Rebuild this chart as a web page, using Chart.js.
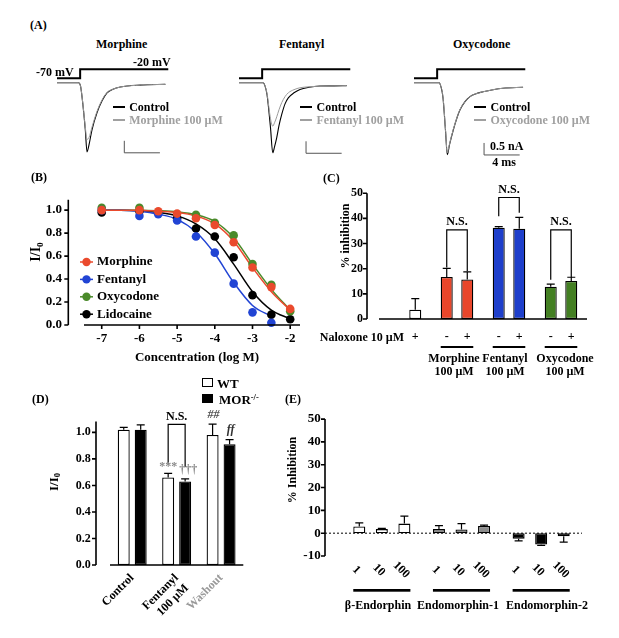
<!DOCTYPE html>
<html>
<head>
<meta charset="utf-8">
<script src="https://cdn.jsdelivr.net/npm/chart.js@4.4.1/dist/chart.umd.min.js"></script>
<style>
  body { margin: 0; background: #fff; }
  #fig { position: relative; width: 619px; height: 638px; overflow: hidden;
         font-family: 'Liberation Serif', 'Times New Roman', serif; font-weight: bold; color: #000; }
  #fig canvas { position: absolute; }
  .t { position: absolute; line-height: 1; white-space: nowrap; }
  .t sub { font-size: 65%; vertical-align: -0.25em; }
  .t sup { font-size: 65%; vertical-align: 0.45em; }
  .key { position: absolute; }
</style>
</head>
<body>
<div id="fig">
  <canvas id="traceMorphine" width="120" height="100" style="left:57px;top:60px"></canvas>
  <canvas id="traceFentanyl" width="120" height="100" style="left:239px;top:60px"></canvas>
  <canvas id="traceOxycodone" width="120" height="100" style="left:414px;top:60px"></canvas>
  <canvas id="chartB" width="310" height="200" style="left:0;top:170px"></canvas>
  <canvas id="chartC" width="309" height="230" style="left:310px;top:170px"></canvas>
  <canvas id="chartD" width="300" height="243" style="left:0;top:395px"></canvas>
  <canvas id="chartE" width="319" height="248" style="left:300px;top:390px"></canvas>
</div>
<script>
/* ===== DATA ===== */
// (A) voltage step and current traces (ms, mV, nA)
const stepTime = [0, 2.6, 2.6, 12.5];
const stepVolt = [-70, -70, -20, -20];

const morphineTime = [0, 2.43, 2.64, 2.81, 3.18, 3.37, 3.60, 3.93, 4.49, 5.06, 5.62, 6.29, 7.11, 9.36, 12.17];
const morphineCtrl = [0, 0, -0.13, -0.58, -1.96, -2.88, -2.58, -1.96, -1.25, -0.75, -0.42, -0.27, -0.18, -0.10, -0.07];
const morphineDrug = [0, 0, -0.13, -0.56, -1.85, -2.36, -2.28, -1.85, -1.20, -0.72, -0.41, -0.27, -0.18, -0.10, -0.07];

const fentanylTime = [0, 2.70, 2.92, 3.15, 3.54, 3.79, 3.99, 4.24, 4.49, 4.80, 5.17, 5.54, 6.18, 6.85, 7.87, 9.10, 10.67, 12.10];
const fentanylCtrl = [0, 0, -0.13, -0.50, -1.88, -2.92, -2.67, -2.29, -1.79, -1.32, -0.88, -0.63, -0.42, -0.28, -0.19, -0.14, -0.13, -0.12];
const fentanylDrug = [0, 0, -0.13, -0.46, -1.50, -1.81, -1.67, -1.42, -1.13, -0.83, -0.58, -0.42, -0.29, -0.21, -0.17, -0.14, -0.13, -0.12];

const oxycodoneTime = [0, 2.81, 3.03, 3.26, 3.54, 3.74, 3.99, 4.42, 4.83, 5.17, 5.73, 6.29, 6.97, 7.75, 8.88, 10.0, 12.25];
const oxycodoneCtrl = [0, 0, -0.17, -0.63, -2.00, -3.00, -2.58, -1.96, -1.46, -1.13, -0.79, -0.58, -0.46, -0.38, -0.29, -0.23, -0.19];
const oxycodoneDrug = [0, 0, -0.17, -0.60, -1.95, -2.92, -2.55, -1.94, -1.45, -1.12, -0.79, -0.58, -0.46, -0.38, -0.29, -0.23, -0.19];

// (B) concentration-response
const bDrugs = ["Morphine", "Fentanyl", "Oxycodone", "Lidocaine"];
const logConc = [-7, -6, -5.5, -5, -4.5, -4, -3.5, -3, -2.5, -2];
const morphineI = [1.00, 1.00, 0.99, 0.97, 0.93, 0.87, 0.72, 0.50, 0.33, 0.14];
const fentanylI = [1.00, 0.95, 0.965, 0.91, 0.77, 0.63, 0.36, 0.11, 0.02, null];
const oxycodoneI = [1.02, 1.02, null, null, 0.96, 0.89, 0.78, 0.53, 0.35, 0.12];
const lidocaineI = [0.98, 0.99, null, 0.93, 0.84, 0.77, 0.59, 0.26, 0.09, 0.05];

const fitLog = [-7, -6.5, -6, -5.5, -5, -4.5, -4, -3.5, -3, -2.5, -2];
const morphineFit = [1.0, 1.0, 1.0, 0.99, 0.98, 0.95, 0.88, 0.73, 0.50, 0.29, 0.13];
const fentanylFit = [1.0, 1.0, 0.99, 0.965, 0.92, 0.81, 0.62, 0.37, 0.17, 0.075, null];
const oxycodoneFit = [1.0, 1.0, 1.0, 0.995, 0.985, 0.96, 0.90, 0.76, 0.53, 0.31, 0.13];
const lidocaineFit = [1.0, 1.0, 0.995, 0.98, 0.95, 0.88, 0.75, 0.53, 0.29, 0.13, 0.055];

// (C) % inhibition, naloxone - / +
const cGroups = ["", ["Morphine", "100 µM"], ["Fentanyl", "100 µM"], ["Oxycodone", "100 µM"]];
const cMinus = [null, 16.7, 36.3, 12.8];
const cMinusErr = [0, 3.4, 0.4, 1.1];
const cPlus = [3.7, 15.7, 35.9, 15.1];
const cPlusErr = [4.4, 3.0, 4.5, 1.5];

// (D) I/I0 in WT and MOR-/-
const dGroups = ["Control", ["Fentanyl", "100 µM"], "Washout"];
const wtMean = [1.02, 0.66, 0.98];
const wtErr = [0.017, 0.031, 0.082];
const morMean = [1.02, 0.63, 0.91];
const morErr = [0.036, 0.019, 0.036];

// (E) endogenous peptides, % inhibition by dose
const eGroups = ["β-Endorphin", "Endomorphin-1", "Endomorphin-2"];
const eDoses = ["1", "10", "100"];
const dose1 = [2.9, 1.8, -2.4];
const dose1Err = [1.6, 1.5, 1.0];
const dose10 = [1.8, 1.6, -5.0];
const dose10Err = [0.3, 2.6, 0.3];
const dose100 = [4.2, 3.2, -1.3];
const dose100Err = [3.3, 0.3, 2.6];

/* ===== STYLE ===== */
const RED = "#e9462b", BLUE = "#1e3fcb", GREEN = "#437f22", GRAY = "#a0a0a0";
const bColors = ["#ea4a2d", "#2144d4", "#4a8a2a", "#000000"];
const cColors = ["#ffffff", RED, BLUE, GREEN];
const eColors = ["#ffffff", "#8c8c8c", "#000000"];
const FONT = "'Liberation Serif', 'Times New Roman', serif";

Chart.defaults.font.family = FONT;
Chart.defaults.font.weight = "bold";
Chart.defaults.font.size = 12;
Chart.defaults.color = "#000";
Chart.defaults.animation = false;
Chart.defaults.plugins.legend.display = false;
Chart.defaults.plugins.tooltip.enabled = false;

const fig = document.getElementById("fig");
function addText(html, x, y, opt = {}) {
  const d = document.createElement("div");
  d.className = "t";
  d.innerHTML = html;
  d.style.left = x + "px";
  d.style.top = y + "px";
  d.style.fontSize = (opt.size || 12) + "px";
  if (opt.color) d.style.color = opt.color;
  const ax = opt.align === "left" ? "0" : opt.align === "right" ? "-100%" : "-50%";
  d.style.transform = `translate(${ax}, -50%)` + (opt.rotate ? ` rotate(${opt.rotate}deg)` : "");
  fig.appendChild(d);
}
function addBox(x, y, w, h, css) {
  const d = document.createElement("div");
  d.className = "key";
  Object.assign(d.style, { left: x + "px", top: y + "px", width: w + "px", height: h + "px" }, css);
  fig.appendChild(d);
}

/* ===== SHARED PLUGINS ===== */
// Prism-like axes: y axis set off to the left of the plot area
const prismAxes = {
  id: "prismAxes",
  afterDraw(chart, args, o) {
    const { ctx, chartArea: ca } = chart;
    const x = chart.scales.x, y = chart.scales.y;
    ctx.save();
    ctx.strokeStyle = "#000";
    ctx.lineWidth = o.width;
    const ax = ca.left - o.gap;
    ctx.beginPath();
    ctx.moveTo(ax, y.getPixelForValue(y.min));
    ctx.lineTo(ax, y.getPixelForValue(y.max));
    y.ticks.forEach((t) => {
      const p = y.getPixelForValue(t.value);
      ctx.moveTo(ax - o.tick, p);
      ctx.lineTo(ax, p);
    });
    if (o.xLine) {
      const p0 = y.getPixelForValue(Math.max(y.min, 0));
      ctx.moveTo(ca.left, p0);
      ctx.lineTo(ca.right, p0);
      if (o.xTicks) {
        x.ticks.forEach((t) => {
          const px = x.getPixelForValue(t.value);
          ctx.moveTo(px, p0);
          ctx.lineTo(px, p0 + o.tick);
        });
      }
    }
    ctx.stroke();
    ctx.restore();
  },
};

// one-sided SEM bars, pointing away from zero
const errorBars = {
  id: "errorBars",
  afterDatasetsDraw(chart) {
    const { ctx } = chart;
    const y = chart.scales.y;
    ctx.save();
    ctx.strokeStyle = "#000";
    ctx.lineWidth = 1.2;
    chart.data.datasets.forEach((ds, i) => {
      if (!ds.errors) return;
      chart.getDatasetMeta(i).data.forEach((bar, j) => {
        const v = ds.data[j], e = ds.errors[j];
        if (v == null || !e) return;
        const tip = y.getPixelForValue(v + (v < 0 ? -e : e));
        ctx.beginPath();
        ctx.moveTo(bar.x, bar.y);
        ctx.lineTo(bar.x, tip);
        ctx.moveTo(bar.x - 4, tip);
        ctx.lineTo(bar.x + 4, tip);
        ctx.stroke();
      });
    });
    ctx.restore();
  },
};

// N.S. brackets between the two bars of a group
function drawBrackets(chart, list) {
  const { ctx } = chart;
  const y = chart.scales.y;
  const m0 = chart.getDatasetMeta(0).data, m1 = chart.getDatasetMeta(1).data;
  ctx.save();
  ctx.strokeStyle = "#000";
  ctx.lineWidth = 1.2;
  ctx.fillStyle = "#000";
  ctx.font = `bold 12px ${FONT}`;
  ctx.textAlign = "center";
  ctx.textBaseline = "middle";
  list.forEach((b) => {
    const xl = m0[b.group].x, xr = m1[b.group].x, top = y.getPixelForValue(b.top);
    ctx.beginPath();
    ctx.moveTo(xl, y.getPixelForValue(b.left));
    ctx.lineTo(xl, top);
    ctx.lineTo(xr, top);
    ctx.lineTo(xr, y.getPixelForValue(b.right));
    ctx.stroke();
    ctx.fillText("N.S.", (xl + xr) / 2, top - 8);
  });
  ctx.restore();
}

/* ===== (A) TRACES ===== */
function traceChart(id, time, ctrl, drug, bar) {
  new Chart(document.getElementById(id), {
    type: "line",
    data: {
      datasets: [
        { data: time.map((t, k) => ({ x: t, y: drug[k] })), borderColor: "#9a9a9a", borderWidth: 1, cubicInterpolationMode: "monotone" },
        { data: time.map((t, k) => ({ x: t, y: ctrl[k] })), borderColor: "#000", borderWidth: 1.1, cubicInterpolationMode: "monotone" },
        { data: stepTime.map((t, k) => ({ x: t, y: stepVolt[k] })), borderColor: "#000", borderWidth: 2, yAxisID: "yV" },
      ],
    },
    options: {
      responsive: false,
      elements: { point: { radius: 0 } },
      layout: { padding: 0 },
      scales: {
        x: { type: "linear", display: false, min: 0, max: 13.48 },
        y: { display: false, min: -3.22, max: 0.946 },
        yV: { display: false, min: -523.9, max: 31.7 },
      },
      plugins: { scaleBar: bar },
    },
    plugins: [{
      id: "scaleBar",
      afterDraw(chart, args, o) {
        const { ctx } = chart;
        const x = chart.scales.x, y = chart.scales.y;
        const x0 = x.getPixelForValue(o.t), y0 = y.getPixelForValue(o.i);
        ctx.save();
        ctx.strokeStyle = "#555";
        ctx.lineWidth = 1;
        ctx.beginPath();
        ctx.moveTo(x0, y.getPixelForValue(o.i + 0.5));
        ctx.lineTo(x0, y0);
        ctx.lineTo(x.getPixelForValue(o.t + 4), y0);
        ctx.stroke();
        ctx.restore();
      },
    }],
  });
}
traceChart("traceMorphine", morphineTime, morphineCtrl, morphineDrug, { t: 7.56, i: -2.92 });
traceChart("traceFentanyl", fentanylTime, fentanylCtrl, fentanylDrug, { t: 7.53, i: -2.94 });
traceChart("traceOxycodone", oxycodoneTime, oxycodoneCtrl, oxycodoneDrug, { t: 7.87, i: -3.01 });

/* ===== (B) CONCENTRATION-RESPONSE ===== */
const bPoints = [morphineI, fentanylI, oxycodoneI, lidocaineI];
const bFits = [morphineFit, fentanylFit, oxycodoneFit, lidocaineFit];
new Chart(document.getElementById("chartB"), {
  type: "line",
  data: {
    datasets: [
      ...bPoints.map((arr, k) => ({
        label: bDrugs[k],
        data: logConc.map((x, n) => ({ x, y: arr[n] })).filter((p) => p.y != null),
        showLine: false, pointRadius: 4.3, pointBackgroundColor: bColors[k], pointBorderWidth: 0, clip: false,
      })),
      ...bFits.map((arr, k) => ({
        data: fitLog.map((x, n) => ({ x, y: arr[n] })),
        borderColor: bColors[k], borderWidth: 1.5, pointRadius: 0, cubicInterpolationMode: "monotone", clip: false,
      })),
    ],
  },
  options: {
    responsive: false,
    layout: { padding: { top: 11.7, right: 10, left: 0, bottom: 0 } },
    scales: {
      x: {
        type: "linear", min: -7.47, max: -1.74,
        grid: { display: false, drawTicks: false }, border: { display: false },
        ticks: { stepSize: 1, includeBounds: false, padding: 5.5, font: { size: 13 } },
        afterFit: (s) => { s.height = 45; },
      },
      y: {
        min: 0, max: 1.09,
        grid: { display: false, drawTicks: false }, border: { display: false },
        ticks: { stepSize: 0.2, includeBounds: false, padding: 22, font: { size: 13 }, callback: (v) => v.toFixed(1) },
        afterFit: (s) => { s.width = 84; },
      },
    },
    plugins: { prismAxes: { width: 1.6, gap: 15.7, tick: 4, xLine: true, xTicks: true } },
  },
  plugins: [prismAxes, {
    id: "bLegend",
    afterDraw(chart) {
      const { ctx } = chart;
      ctx.save();
      ctx.font = `bold 13px ${FONT}`;
      ctx.textBaseline = "middle";
      bDrugs.forEach((name, k) => {
        const yy = 92 + k * 17.4;
        ctx.strokeStyle = bColors[k];
        ctx.fillStyle = bColors[k];
        ctx.lineWidth = 1.5;
        ctx.beginPath();
        ctx.moveTo(80, yy);
        ctx.lineTo(93, yy);
        ctx.stroke();
        ctx.beginPath();
        ctx.arc(86.5, yy, 4.2, 0, Math.PI * 2);
        ctx.fill();
        ctx.fillStyle = "#000";
        ctx.fillText(name, 97, yy);
      });
      ctx.restore();
    },
  }],
});

/* ===== (C) % INHIBITION WITH NALOXONE ===== */
new Chart(document.getElementById("chartC"), {
  type: "bar",
  data: {
    labels: cGroups,
    datasets: [
      { label: "-", data: cMinus, errors: cMinusErr, backgroundColor: cColors },
      { label: "+", data: cPlus, errors: cPlusErr, backgroundColor: cColors },
    ],
  },
  options: {
    responsive: false,
    layout: { padding: { top: 17.3, right: 32, left: 0, bottom: 0 } },
    datasets: { bar: { categoryPercentage: 0.79, barPercentage: 0.585, borderColor: "#000", borderWidth: 1.3, borderSkipped: false } },
    scales: {
      x: {
        grid: { display: false, drawTicks: false }, border: { display: false },
        ticks: { display: false },
        afterFit: (s) => { s.height = 81; },
      },
      y: {
        min: 0, max: 50,
        grid: { display: false, drawTicks: false }, border: { display: false },
        ticks: { stepSize: 10, padding: 16, font: { size: 12 } },
        afterFit: (s) => { s.width = 69; },
      },
    },
    plugins: { prismAxes: { width: 1.6, gap: 12, tick: 4, xLine: true } },
  },
  plugins: [prismAxes, errorBars, {
    id: "cNotes",
    afterDraw(chart) {
      const { ctx, chartArea: ca } = chart;
      ctx.save();
      ctx.fillStyle = "#000";
      ctx.font = `bold 12px ${FONT}`;
      ctx.textAlign = "center";
      ctx.textBaseline = "middle";
      const m0 = chart.getDatasetMeta(0).data, m1 = chart.getDatasetMeta(1).data;
      chart.data.datasets.forEach((ds, i) => {
        chart.getDatasetMeta(i).data.forEach((bar, j) => {
          if (ds.data[j] != null) ctx.fillText(ds.label, bar.x, ca.bottom + 17.5);
        });
      });
      cGroups.forEach((g, j) => {
        if (!g) return;
        ctx.fillRect(m0[j].x - m0[j].width / 2, ca.bottom + 27, m1[j].x + m1[j].width / 2 - (m0[j].x - m0[j].width / 2), 2);
      });
      ctx.restore();
      drawBrackets(chart, [
        { group: 1, top: 35.4, left: 20.5, right: 19.0 },
        { group: 2, top: 48.3, left: 40.8, right: 42.2 },
        { group: 3, top: 35.4, left: 15.6, right: 16.7 },
      ]);
    },
  }],
});

/* ===== (D) WT vs MOR-/- ===== */
const dTickColors = ["#000", "#000", "#9a9a9a"];
new Chart(document.getElementById("chartD"), {
  type: "bar",
  data: {
    labels: dGroups,
    datasets: [
      { label: "WT", data: wtMean, errors: wtErr, backgroundColor: "#fff" },
      { label: "MOR-/-", data: morMean, errors: morErr, backgroundColor: "#000" },
    ],
  },
  options: {
    responsive: false,
    layout: { padding: { top: 21, right: 56.7, left: 0, bottom: 0 } },
    datasets: { bar: { categoryPercentage: 0.764, barPercentage: 0.706, borderColor: "#000", borderWidth: 1.3, borderSkipped: false } },
    scales: {
      x: {
        grid: { display: false, drawTicks: false }, border: { display: false },
        ticks: { minRotation: 45, maxRotation: 45, autoSkip: false, padding: 6, font: { size: 12 },
                 color: (c) => dTickColors[c.index] },
        afterFit: (s) => { s.height = 73; },
      },
      y: {
        min: 0, max: 1.082,
        grid: { display: false, drawTicks: false }, border: { display: false },
        ticks: { stepSize: 0.2, includeBounds: false, padding: 19.3, font: { size: 12 }, callback: (v) => v.toFixed(1) },
        afterFit: (s) => { s.width = 110; },
      },
    },
    plugins: { prismAxes: { width: 1.6, gap: 14, tick: 4, xLine: true } },
  },
  plugins: [prismAxes, errorBars, {
    id: "dNotes",
    afterDraw(chart) {
      drawBrackets(chart, [{ group: 1, top: 1.06, left: 0.763, right: 0.738 }]);
      const { ctx } = chart;
      const y = chart.scales.y;
      const marks = [
        { ds: 0, idx: 1, text: "***", color: "#8a8a8a", dx: 0, dy: -6, italic: false },
        { ds: 1, idx: 1, text: "†††", color: "#8a8a8a", dx: 3, dy: -9, italic: false },
        { ds: 0, idx: 2, text: "##", color: "#555", dx: 1, dy: -9, italic: true },
        { ds: 1, idx: 2, text: "ff", color: "#333", dx: 1, dy: -10, italic: true },
      ];
      ctx.save();
      ctx.textAlign = "center";
      ctx.textBaseline = "middle";
      marks.forEach((mk) => {
        const ds = chart.data.datasets[mk.ds];
        const bar = chart.getDatasetMeta(mk.ds).data[mk.idx];
        const tip = y.getPixelForValue(ds.data[mk.idx] + ds.errors[mk.idx]);
        ctx.fillStyle = mk.color;
        ctx.font = `${mk.italic ? "italic " : ""}bold 12px ${FONT}`;
        ctx.fillText(mk.text, bar.x + mk.dx, tip + mk.dy);
      });
      ctx.restore();
    },
  }],
});

/* ===== (E) ENDOGENOUS PEPTIDES ===== */
const eMeans = [dose1, dose10, dose100];
const eErrs = [dose1Err, dose10Err, dose100Err];
new Chart(document.getElementById("chartE"), {
  type: "bar",
  data: {
    labels: eGroups,
    datasets: eDoses.map((d, k) => ({ label: d, data: eMeans[k], errors: eErrs[k], backgroundColor: eColors })),
  },
  options: {
    responsive: false,
    layout: { padding: { top: 14, right: 38, left: 0, bottom: 0 } },
    datasets: { bar: { categoryPercentage: 0.849, barPercentage: 0.533, borderColor: "#000", borderWidth: 1.3, borderSkipped: false } },
    scales: {
      x: {
        grid: { display: false, drawTicks: false }, border: { display: false },
        ticks: { display: false },
        afterFit: (s) => { s.height = 82; },
      },
      y: {
        min: -10, max: 50,
        grid: { display: false, drawTicks: false }, border: { display: false },
        ticks: { stepSize: 10, padding: 21.3, font: { size: 13 } },
        afterFit: (s) => { s.width = 42; },
      },
    },
    plugins: { prismAxes: { width: 1.6, gap: 17, tick: 4, xLine: false } },
  },
  plugins: [prismAxes, errorBars, {
    id: "eNotes",
    afterDraw(chart) {
      const { ctx, chartArea: ca } = chart;
      const y0 = chart.scales.y.getPixelForValue(0);
      ctx.save();
      ctx.strokeStyle = "#000";
      ctx.lineWidth = 1;
      ctx.setLineDash([2, 2]);
      ctx.beginPath();
      ctx.moveTo(ca.left - 17, y0);
      ctx.lineTo(ca.right + 1, y0);
      ctx.stroke();
      ctx.setLineDash([]);
      ctx.fillStyle = "#000";
      ctx.font = `bold 12px ${FONT}`;
      ctx.textAlign = "center";
      ctx.textBaseline = "middle";
      const metas = eDoses.map((d, k) => chart.getDatasetMeta(k).data);
      eDoses.forEach((d, k) => {
        metas[k].forEach((bar) => {
          ctx.save();
          ctx.translate(bar.x - 3, ca.bottom + 14);
          ctx.rotate(Math.PI / 4);
          ctx.fillText(d, 0, 0);
          ctx.restore();
        });
      });
      eGroups.forEach((g, j) => {
        const first = metas[0][j], last = metas[metas.length - 1][j];
        const x0 = first.x - first.width / 2;
        ctx.fillRect(x0, ca.bottom + 33, last.x + last.width / 2 - x0, 2.7);
      });
      ctx.restore();
    },
  }],
});

/* ===== TEXT ===== */
addText("(A)", 30, 25, { align: "left" });
addText("Morphine", 121.7, 44);
addText("Fentanyl", 301.7, 44);
addText("Oxycodone", 481.7, 44);
addText("-70 mV", 36, 72.2, { align: "left" });
addText("-20 mV", 133, 61.7, { align: "left" });
addText("0.5 nA", 490, 146, { align: "left" });
addText("4 ms", 504, 162);

const legendA = [[112.7, "Morphine 100 µM"], [300, "Fentanyl 100 µM"], [474, "Oxycodone 100 µM"]];
legendA.forEach(([x, drugLabel]) => {
  addBox(x, 105.5, 12, 2, { background: "#000" });
  addText("Control", x + 16.5, 106.5, { align: "left" });
  addBox(x, 119.2, 12, 1.5, { background: GRAY });
  addText(drugLabel, x + 16.5, 120, { align: "left", color: GRAY });
});

addText("(B)", 31, 177, { align: "left" });
addText("I/I<sub>0</sub>", 37, 252, { size: 14, rotate: -90 });
addText("Concentration (log M)", 197, 356, { size: 13 });

addText("(C)", 323, 178, { align: "left" });
addText("% inhibition", 345, 236, { rotate: -90 });
addText("Naloxone 10 µM", 404, 336.5, { align: "right" });
// group names under panel C (packed tightly, as in the original)
const cNameX = [null, 454, 505, 565];
cGroups.forEach((g, j) => {
  if (!g) return;
  addText(g[0], cNameX[j], 358.3);
  addText(g[1], cNameX[j], 371);
});

addText("(D)", 32, 399, { align: "left" });
addText("I/I<sub>0</sub>", 54, 482, { size: 13, rotate: -90 });
addBox(202, 378, 11, 9, { border: "1.3px solid #000", boxSizing: "border-box", background: "#fff" });
addText("WT", 217, 383, { align: "left", size: 13 });
addBox(202, 394, 11, 9, { background: "#000" });
addText("MOR<sup>-/-</sup>", 219, 399, { align: "left", size: 13 });

addText("(E)", 285, 399, { align: "left" });
addText("% Inhibition", 292, 470, { rotate: -90 });
const eNameX = [378, 458, 547];
eGroups.forEach((g, j) => addText(g, eNameX[j], 605));
</script>
</body>
</html>
